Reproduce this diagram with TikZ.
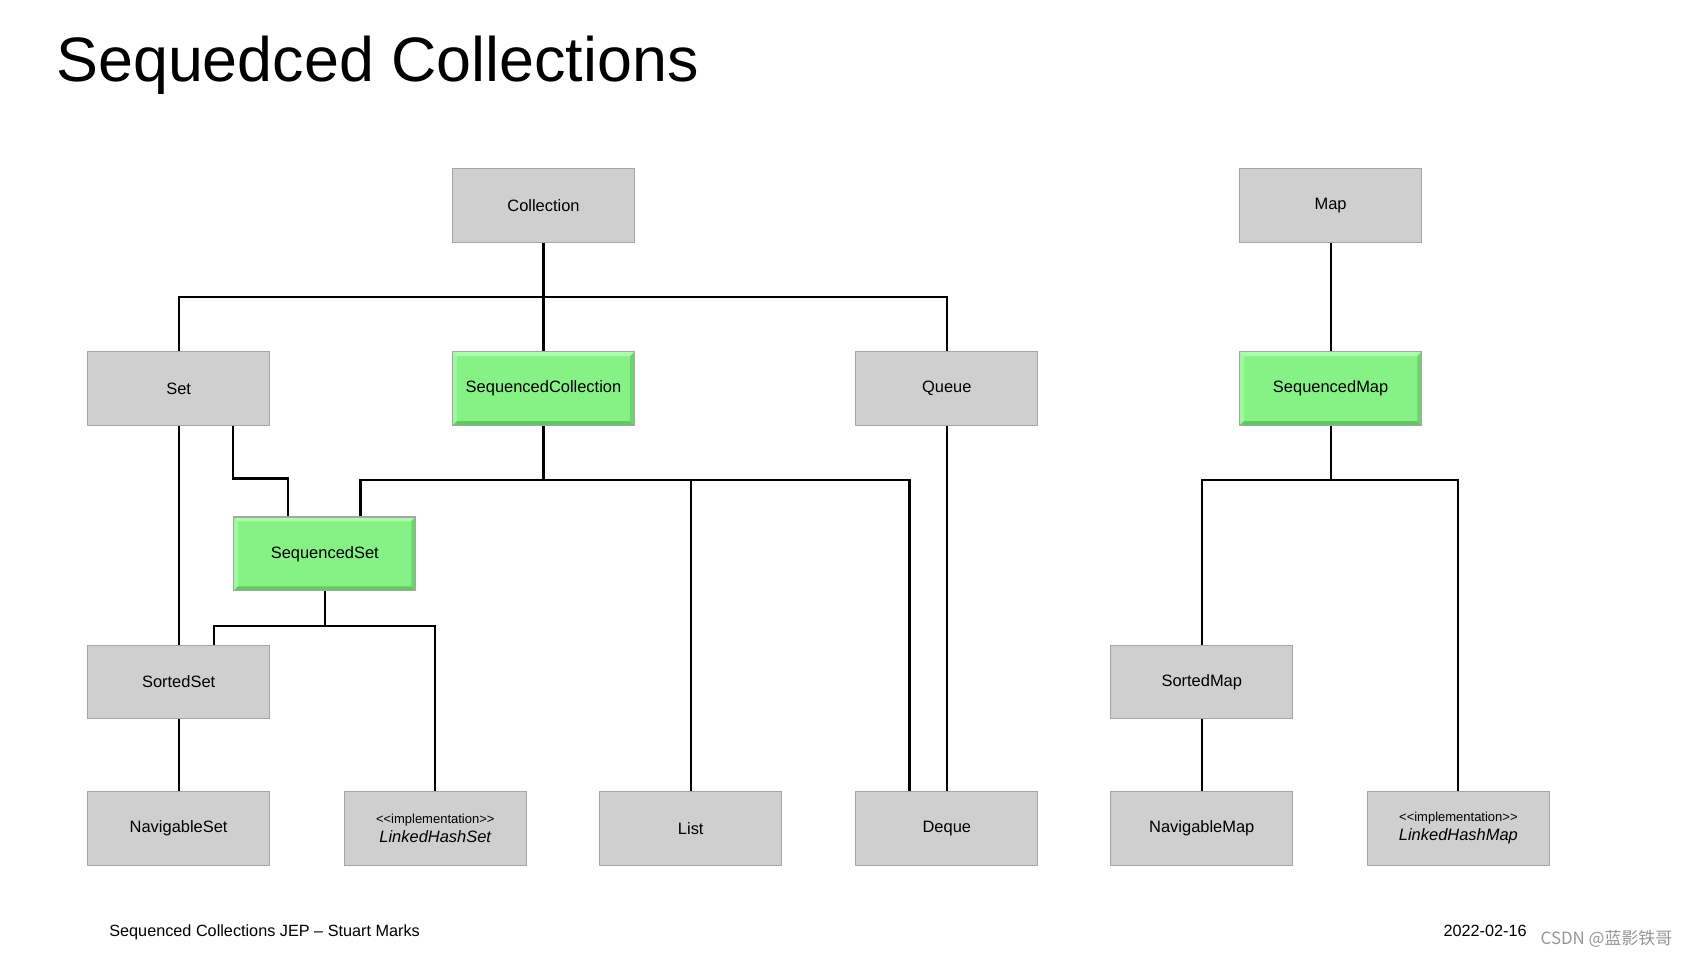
\documentclass[tikz,border=0pt]{standalone}
\usepackage{fontspec}
\setmainfont{Liberation Sans}
\newfontfamily\cjk{Noto Sans CJK SC}
\usetikzlibrary{calc}
\definecolor{gfill}{RGB}{207,207,207}
\definecolor{gborder}{RGB}{165,165,165}
\definecolor{grfill}{RGB}{134,242,134}
\definecolor{grlight}{RGB}{172,252,172}
\definecolor{grlight2}{RGB}{158,248,158}
\definecolor{grdark}{RGB}{98,200,98}
\definecolor{grdark2}{RGB}{108,212,108}
\definecolor{wmark}{RGB}{150,150,150}
\tikzset{
  box/.style={rectangle, draw=gborder, line width=0.5pt, fill=gfill,
    minimum width=84pt, minimum height=34pt, inner sep=0pt,
    font=\fontsize{7.6}{9}\selectfont, align=center},
  greenbox/.style={box, fill=grfill, path picture={
    \fill[grlight] (path picture bounding box.north west) -- (path picture bounding box.north east)
      -- ([shift={(-2pt,-2pt)}]path picture bounding box.north east)
      -- ([shift={(2pt,-2pt)}]path picture bounding box.north west) -- cycle;
    \fill[grlight2] (path picture bounding box.north west) -- (path picture bounding box.south west)
      -- ([shift={(2pt,2pt)}]path picture bounding box.south west)
      -- ([shift={(2pt,-2pt)}]path picture bounding box.north west) -- cycle;
    \fill[grdark] (path picture bounding box.south west) -- (path picture bounding box.south east)
      -- ([shift={(-2pt,2pt)}]path picture bounding box.south east)
      -- ([shift={(2pt,2pt)}]path picture bounding box.south west) -- cycle;
    \fill[grdark2] (path picture bounding box.north east) -- (path picture bounding box.south east)
      -- ([shift={(-2pt,2pt)}]path picture bounding box.south east)
      -- ([shift={(-2pt,-2pt)}]path picture bounding box.north east) -- cycle;
  }},
  conn/.style={draw=black, line width=1pt},
  txt/.style={inner sep=0pt, outer sep=0pt}
}
\newcommand{\implbox}[1]{{\fontsize{6}{7}\selectfont <\kern0pt<implementation>\kern0pt>}\\[-0.4pt]{\itshape #1}}
\begin{document}
\begin{tikzpicture}[x=0.5pt, y=-0.5pt]
\useasboundingbox (0,0) rectangle (1560,883);
\fill[white] (0,0) rectangle (1560,883);

% title and footer
\node[txt, anchor=base west, font=\fontsize{29}{34}\selectfont] (title) at (52,75) {Sequedced Collections};
\node[txt, anchor=base west, font=\fontsize{7.5}{9}\selectfont] (footer) at (101,865) {Sequenced Collections JEP – Stuart Marks};
\node[txt, anchor=base east, font=\fontsize{7.5}{9}\selectfont] (date) at (1410,865) {2022-02-16};
\node[txt, anchor=base west, text=wmark, font=\cjk\fontsize{7.8}{9}\selectfont] (wm) at (1423,872) {CSDN @蓝影铁哥};

% nodes
\node[box] (Collection) at (502,190) {Collection};
\node[box] (Map) at (1229,190) {Map};
\node[box] (Set) at (165,359) {Set};
\node[greenbox] (SeqColl) at (502,359) {SequencedCollection};
\node[box] (Queue) at (874.5,359) {Queue};
\node[greenbox] (SeqMap) at (1229,359) {SequencedMap};
\node[greenbox] (SeqSet) at (300,511.5) {SequencedSet};
\node[box] (SortedSet) at (165,630) {SortedSet};
\node[box] (SortedMap) at (1110,630) {SortedMap};
\node[box] (NavSet) at (165,765) {NavigableSet};
\node[box] (LHS) at (402,765) {\implbox{LinkedHashSet}};
\node[box] (List) at (638,765) {List};
\node[box] (Deque) at (874.5,765) {Deque};
\node[box] (NavMap) at (1110,765) {NavigableMap};
\node[box] (LHM) at (1347,765) {\implbox{LinkedHashMap}};

% junctions
\coordinate (h1) at (502,274);
\coordinate (h2) at (502,443);
\coordinate (h3) at (300,578);
\coordinate (h4) at (1229,443);

% connectors
\draw[conn] (Collection.south) -- (h1);
\draw[conn] (Set.north) |- (h1) -| (Queue.north);
\draw[conn] (h1) -- (SeqColl.north);
\draw[conn] (Map.south) -- (SeqMap.north);

\draw[conn] (Set.south) -- (SortedSet.north);
\draw[conn] ($(Set.south)+(50,0)$) |- ($(SeqSet.north)+(-34,-35)$) -- ($(SeqSet.north)+(-34,0)$);

\draw[conn] (SeqColl.south) -- (h2);
\draw[conn] ($(SeqSet.north)+(33,0)$) |- (h2) -| ($(Deque.north)+(-34.5,0)$);
\draw[conn] (h2 -| List.north) -- (List.north);
\draw[conn] (Queue.south) -- (Deque.north);

\draw[conn] (SeqSet.south) -- (h3);
\draw[conn] ($(SortedSet.north)+(33,0)$) |- (h3) -| (LHS.north);
\draw[conn] (SortedSet.south) -- (NavSet.north);

\draw[conn] (SeqMap.south) -- (h4);
\draw[conn] (SortedMap.north) |- (h4) -| (LHM.north);
\draw[conn] (SortedMap.south) -- (NavMap.north);
\end{tikzpicture}
\end{document}
